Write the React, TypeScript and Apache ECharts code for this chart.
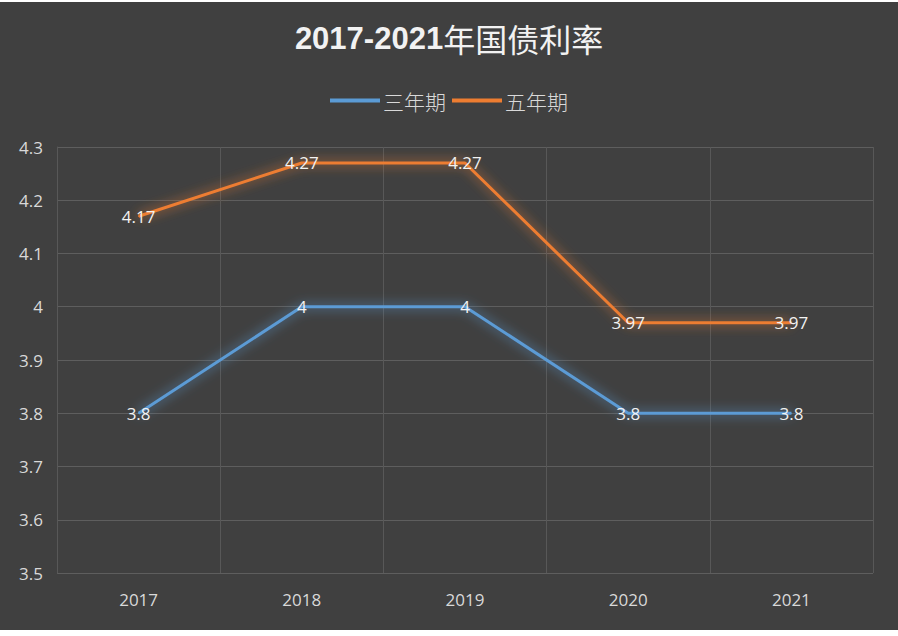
import React, { useEffect, useRef } from "react";
import * as echarts from "echarts";

const years = ["2017", "2018", "2019", "2020", "2021"];
const threeYear = [3.8, 4, 4, 3.8, 3.8];
const fiveYear = [4.17, 4.27, 4.27, 3.97, 3.97];
const seriesNames = ["三年期", "五年期"];
const titleYears = "2017-2021";
const titleText = "年国债利率";

const FONT = "'Open Sans', 'Noto Sans CJK SC', sans-serif";

export default function App() {
  const ref = useRef<HTMLDivElement>(null);
  useEffect(() => {
    if (!ref.current) return;
    const chart = echarts.init(ref.current, undefined, { renderer: "svg" });
    const mkSeries = (name: string, data: number[], color: string) => ({
      name,
      type: "line",
      data,
      symbol: "circle",
      symbolSize: 1,
      showSymbol: true,
      lineStyle: { color, width: 3, shadowColor: color, shadowBlur: 12 },
      itemStyle: { color },
      label: {
        show: true,
        position: "inside",
        color: "#f2f2f2",
        fontSize: 17,
        fontFamily: FONT,
      },
    });
    chart.setOption({
      animation: false,
      backgroundColor: "#404040",
      title: {
        text: `{a|${titleYears}}{b|${titleText}}`,
        left: "center",
        top: 15,
        textStyle: {
          rich: {
            a: { fontSize: 31, fontWeight: "bold", color: "#f2f2f2", fontFamily: "'Liberation Sans', 'Open Sans', sans-serif" },
            b: { fontSize: 32, fontWeight: "normal", color: "#f2f2f2", fontFamily: "'Noto Sans CJK SC', sans-serif" },
          },
        },
      },
      legend: {
        top: 83,
        left: "center",
        icon: "rect",
        itemWidth: 50,
        itemHeight: 4,
        itemGap: 6,
        data: seriesNames,
        textStyle: { color: "#d9d9d9", fontSize: 21, fontWeight: 300, fontFamily: "'Noto Sans CJK SC', sans-serif", padding: [0, 0, 0, -2] },
      },
      grid: { left: 57, right: 25, top: 145, bottom: 57 },
      xAxis: {
        type: "category",
        data: years,
        boundaryGap: true,
        axisLine: { show: false },
        axisTick: { show: false },
        splitLine: { show: true, lineStyle: { color: "#585858", width: 1 } },
        axisLabel: { color: "#d9d9d9", fontSize: 17, margin: 18, fontFamily: FONT },
      },
      yAxis: {
        type: "value",
        min: 3.5,
        max: 4.3,
        interval: 0.1,
        axisLine: { show: true, lineStyle: { color: "#585858" } },
        axisTick: { show: false },
        splitLine: { show: true, lineStyle: { color: "#5e5e5e", width: 1 } },
        axisLabel: {
          color: "#d9d9d9",
          fontSize: 17,
          margin: 14,
          fontFamily: FONT,
          formatter: (v: number) => String(Math.round(v * 10) / 10),
        },
      },
      series: [
        mkSeries(seriesNames[0], threeYear, "#5b9bd5"),
        mkSeries(seriesNames[1], fiveYear, "#ed7d31"),
      ],
    });
    return () => chart.dispose();
  }, []);
  return (
    <div
      ref={ref}
      style={{ position: "absolute", left: 0, top: 2, width: 898, height: 628 }}
    />
  );
}
